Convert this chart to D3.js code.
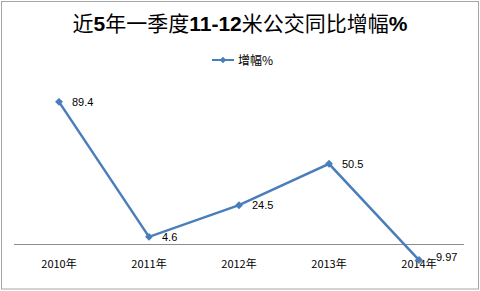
<!DOCTYPE html>
<html>
<head>
<meta charset="utf-8">
<script src="https://cdn.jsdelivr.net/npm/d3@7"></script>
<style>
  body { margin: 0; background: #fff; }
  svg { display: block; }
</style>
</head>
<body>
<svg id="chart"></svg>
<script>
const years = ["2010年", "2011年", "2012年", "2013年", "2014年"];
const growth = [89.4, 4.6, 24.5, 50.5, -9.97];
const pointLabels = ["89.4", "4.6", "24.5", "50.5", "9.97"];
const seriesName = "增幅%";

const W = 480, H = 291;
const font = "'Noto Sans CJK SC', 'Liberation Sans', sans-serif";
const blue = "#4a7ebb";

const svg = d3.select("#chart").attr("width", W).attr("height", H);

// frame
svg.append("rect")
  .attr("x", 1.5).attr("y", 1.5)
  .attr("width", W - 3).attr("height", H - 3.5)
  .attr("fill", "#fff").attr("stroke", "#a6a6a6");

// title: digits bold, CJK regular
const title = svg.append("text")
  .attr("x", W / 2).attr("y", 31)
  .attr("text-anchor", "middle")
  .style("font-family", font).style("font-size", "21px").attr("fill", "#000");
[["近", false], ["5", true], ["年一季度", false], ["11-12", true],
 ["米公交同比增幅", false], ["%", true]].forEach(([t, b]) => {
  title.append("tspan").text(t).style("font-weight", b ? "bold" : "normal")
    .style("font-family", b ? "'Liberation Sans', sans-serif" : font);
});

// legend
const lg = svg.append("g").attr("transform", "translate(212,60)");
lg.append("line").attr("x1", 0).attr("x2", 22).attr("y1", 0).attr("y2", 0)
  .attr("stroke", blue).attr("stroke-width", 2);
lg.append("path").attr("d", d3.symbol(d3.symbolDiamond2, 28)())
  .attr("transform", "translate(11,0)").attr("fill", blue);
lg.append("text").attr("x", 26).attr("y", 4.5)
  .style("font-family", font).style("font-size", "12px").text(seriesName);

// scales
const x = d3.scaleBand().domain(years).range([14, 464]);
const y = d3.scaleLinear().domain([-20, 100]).range([276, 85]);
const cx = d => x(d) + x.bandwidth() / 2;

// x axis line at zero
svg.append("line")
  .attr("x1", 14).attr("x2", 464)
  .attr("y1", Math.round(y(0)) + 0.5).attr("y2", Math.round(y(0)) + 0.5)
  .attr("stroke", "#8c8c8c");

// category labels
svg.selectAll(".cat").data(years).enter().append("text")
  .attr("class", "cat")
  .attr("x", d => cx(d)).attr("y", 268)
  .attr("text-anchor", "middle")
  .style("font-family", font).style("font-size", "11px").attr("fill", "#000")
  .text(d => d);

const pts = years.map((d, i) => ({ cat: d, v: growth[i], lab: pointLabels[i] }));

// line
svg.append("path").datum(pts)
  .attr("fill", "none").attr("stroke", blue).attr("stroke-width", 2.5)
  .attr("d", d3.line().x(d => cx(d.cat)).y(d => y(d.v)));

// markers
svg.selectAll(".mk").data(pts).enter().append("path")
  .attr("class", "mk")
  .attr("d", d3.symbol(d3.symbolDiamond2, 40)())
  .attr("transform", d => `translate(${cx(d.cat)},${y(d.v)})`)
  .attr("fill", blue);

// data labels
svg.selectAll(".lab").data(pts).enter().append("text")
  .attr("class", "lab")
  .attr("x", d => cx(d.cat) + (d.v < 0 ? 17 : 13))
  .attr("y", d => y(d.v) + (d.v < 0 ? 1 : 4))
  .style("font-family", "'Liberation Sans', sans-serif").style("font-size", "11px")
  .attr("fill", "#000")
  .text(d => d.lab);
</script>
</body>
</html>
